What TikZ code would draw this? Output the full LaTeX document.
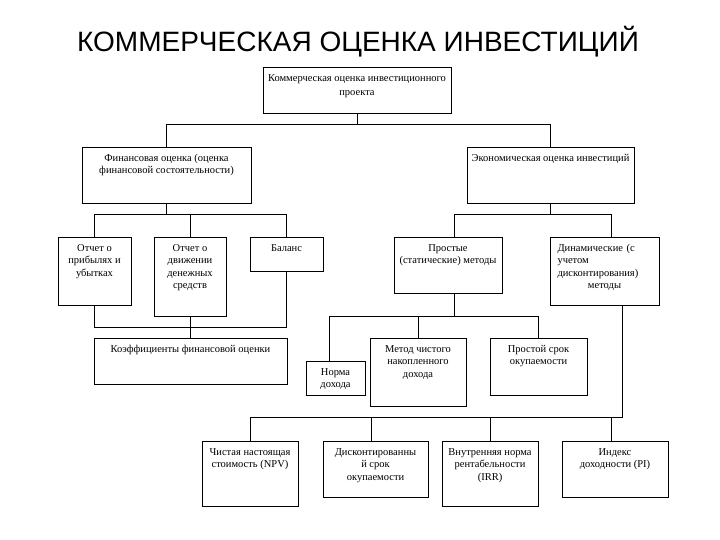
\documentclass[tikz,border=0pt]{standalone}
\usepackage{fontspec}
\setmainfont{Liberation Serif}
\newfontfamily\titlefont{Liberation Sans}
\newcommand\mybox[6]{%
  \node[box, minimum width={#4pt-#2pt}, minimum height={#5pt-#3pt}] (#1) at (#2,#3) {};
  \node[txt] (#1-t) at ([yshift=-7pt]#1.north) {#6};}
\begin{document}
\begin{tikzpicture}[x=1pt,y=-1pt,
  box/.style={draw=black, line width=0.9pt, fill=white, inner sep=0pt, outer sep=0pt, anchor=north west},
  txt/.style={anchor=north, align=center, inner sep=0pt, font=\fontsize{10.5}{12.5}\selectfont},
  conn/.style={draw=black, line width=0.9pt}]
\useasboundingbox (0,0) rectangle (720,540);
\fill[white] (0,0) rectangle (720,540);

\node[font=\titlefont\fontsize{28}{32}\selectfont] (title) at (358,42) {КОММЕРЧЕСКАЯ ОЦЕНКА ИНВЕСТИЦИЙ};

\mybox{top}{263}{67}{451}{113}{Коммерческая оценка инвестиционного\\[1.5pt]проекта}
\mybox{fin}{82}{147}{251}{203}{Финансовая оценка (оценка\\финансовой состоятельности)}
\mybox{eco}{467}{147}{634}{203}{Экономическая оценка инвестиций}
\mybox{opu}{58}{237}{131}{305}{Отчет о\\прибылях и\\убытках}
\mybox{odds}{154}{237}{226}{316}{Отчет о\\движении\\денежных\\средств}
\mybox{bal}{250}{237}{323}{271}{Баланс}
\mybox{coef}{94}{338}{287}{384}{Коэффициенты финансовой оценки}
\mybox{prost}{394}{237}{502}{293}{Простые\\(статические) методы}
\node[box, minimum width=109pt, minimum height=68pt] (dyn) at (550,237) {};
\node[anchor=north, inner sep=0pt, text width=94pt, align=left, font=\fontsize{10.5}{12.5}\selectfont] (dyn-t) at ([yshift=-7pt]dyn.north)
  {Динамические (с\\учетом\\дисконтирования)\\\makebox[94pt][c]{методы}};
\mybox{norma}{306}{361}{365}{395}{Норма\\дохода}
\mybox{metod}{370}{338}{466}{406}{Метод чистого\\накопленного\\дохода}
\mybox{psrok}{490}{338}{587}{395}{Простой срок\\окупаемости}
\mybox{npv}{202}{441}{298}{506}{Чистая настоящая\\стоимость (NPV)}
\mybox{dpp}{323}{441}{428}{497}{Дисконтированны\\й срок\\окупаемости}
\mybox{irr}{442}{441}{538}{506}{Внутренняя норма\\рентабельности\\(IRR)}
\mybox{pi}{562}{441}{668}{497}{Индекс\\доходности (PI)}

\coordinate (busA) at (0,124);
\coordinate (busB) at (0,214);
\coordinate (busC) at (0,327);
\coordinate (busD) at (0,316);
\coordinate (busE) at (0,417);

\draw[conn] (top.south) -- (top.south |- busA);
\draw[conn] (fin.north) |- (busA -| eco.north) -- (eco.north);

\draw[conn] (fin.south) -- (fin.south |- busB);
\draw[conn] (opu.north) |- (busB -| bal.north) -- (bal.north);
\draw[conn] (odds.north) -- (odds.north |- busB);
\draw[conn] (opu.south) |- (busC -| bal.south) -- (bal.south);
\draw[conn] (odds.south) -- (odds.south |- coef.north);

\coordinate (prostTop) at ([xshift=6pt]prost.north);
\coordinate (dynTop) at ([xshift=6.5pt]dyn.north);
\draw[conn] (eco.south) -- (eco.south |- busB);
\draw[conn] (prostTop) |- (busB -| dynTop) -- (dynTop);

\coordinate (prostBot) at ([xshift=6pt]prost.south);
\coordinate (normaTop) at ([xshift=-6.5pt]norma.north);
\draw[conn] (prostBot) -- (prostBot |- busD);
\draw[conn] (normaTop) |- (busD -| psrok.north) -- (psrok.north);
\draw[conn] (metod.north) -- (metod.north |- busD);

\coordinate (dynBot) at ([xshift=17.5pt]dyn.south);
\coordinate (dppTop) at ([xshift=-4.5pt]dpp.north);
\coordinate (piTop) at ([xshift=-4pt]pi.north);
\draw[conn] (dynBot) -- (dynBot |- busE) -| (npv.north);
\draw[conn] (dppTop) -- (dppTop |- busE);
\draw[conn] (irr.north) -- (irr.north |- busE);
\draw[conn] (piTop) -- (piTop |- busE);
\end{tikzpicture}
\end{document}
